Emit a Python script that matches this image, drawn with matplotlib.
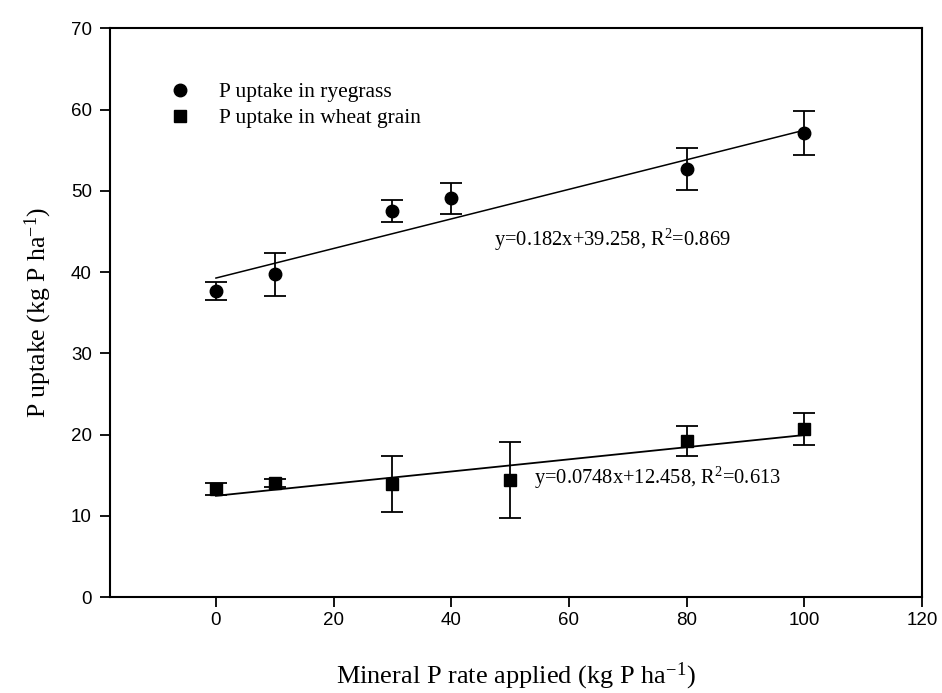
import matplotlib
matplotlib.use("Agg")
import matplotlib.pyplot as plt
from matplotlib.lines import Line2D
import numpy as np

plt.rcParams['mathtext.fontset'] = 'custom'
plt.rcParams['mathtext.rm'] = 'Liberation Serif'
plt.rcParams['mathtext.it'] = 'Liberation Serif:italic'

# data
p_rate = [0, 10, 30, 40, 80, 100]
rye_uptake = [37.7, 39.7, 47.5, 49.1, 52.7, 57.1]
rye_err = [1.1, 2.7, 1.4, 1.9, 2.6, 2.7]

wheat_rate = [0, 10, 30, 50, 80, 100]
wheat_uptake = [13.3, 14.0, 13.9, 14.4, 19.2, 20.7]
wheat_err = [0.7, 0.5, 3.4, 4.7, 1.9, 2.0]

rye_fit = (0.182, 39.258)
wheat_fit = (0.0748, 12.458)

serif = 'Liberation Serif'
sans = 'Liberation Sans'

fig = plt.figure(figsize=(9.42, 6.93), dpi=100)
ax = fig.add_axes([0.1168, 0.1385, 0.862, 0.8207])

ax.errorbar(p_rate, rye_uptake, yerr=rye_err, fmt='o', color='black',
            markersize=9, capsize=8, elinewidth=1.3, capthick=1.3)
ax.errorbar(wheat_rate, wheat_uptake, yerr=wheat_err, fmt='s', color='black',
            markersize=9, capsize=8, elinewidth=1.3, capthick=1.3)

xf = np.array([0, 100])
ax.plot(xf, rye_fit[0] * xf + rye_fit[1], color='black', lw=1.1)
ax.plot(xf, wheat_fit[0] * xf + wheat_fit[1], color='black', lw=1.3)

ax.text(47.2, 44.0, 'y=0.182x+39.258, R$^2$=0.869', family=serif,
        fontsize=14.8, va='center', ha='left')
ax.text(54.0, 14.65, 'y=0.0748x+12.458, R$^2$=0.613', family=serif,
        fontsize=14.8, va='center', ha='left')

ax.set_xlim(-18, 120)
ax.set_ylim(0, 70)
ax.set_xticks(range(0, 121, 20))
ax.set_yticks(range(0, 71, 10))
ax.tick_params(direction='out', length=7, width=1.3, labelsize=13.5,
               top=False, right=False)
ax.tick_params(axis='y', pad=6)
for lbl in ax.get_xticklabels() + ax.get_yticklabels():
    lbl.set_family(sans)
for s in ax.spines.values():
    s.set_linewidth(1.5)

ax.set_xlabel('Mineral P rate applied (kg P ha$^{-1}$)', family=serif,
              fontsize=19, labelpad=23)
ax.set_ylabel('P uptake (kg P ha$^{-1}$)', family=serif, fontsize=18.5,
              labelpad=12)

handles = [Line2D([], [], ls='none', marker='o', color='black', markersize=9),
           Line2D([], [], ls='none', marker='s', color='black', markersize=9)]
labels = ['P uptake in ryegrass', 'P uptake in wheat grain']
ax.legend(handles, labels, loc='upper left', bbox_to_anchor=(0.06, 0.905),
          frameon=False, prop={'family': serif, 'size': 15.5},
          handlelength=2.0, handletextpad=0.8, labelspacing=0.28,
          borderpad=0, borderaxespad=0)

fig.savefig('out.png', dpi=100)
